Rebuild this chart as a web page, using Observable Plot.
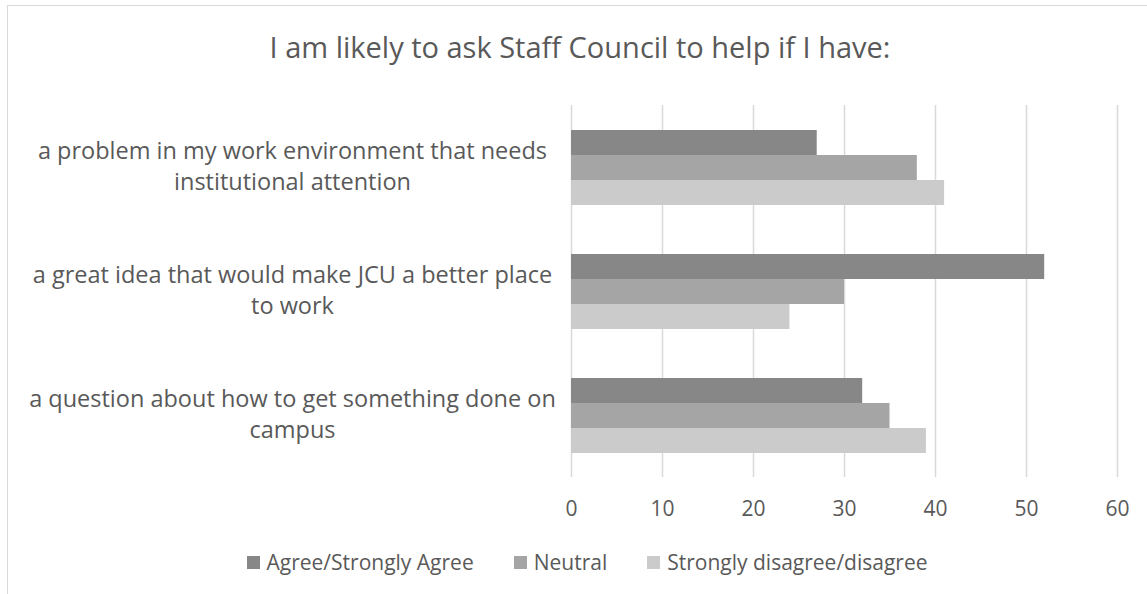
<!DOCTYPE html>
<html>
<head>
<meta charset="utf-8">
<script src="https://cdn.jsdelivr.net/npm/d3@7"></script>
<script src="https://cdn.jsdelivr.net/npm/@observablehq/plot@0.6"></script>
<style>
  html, body { margin: 0; padding: 0; background: #fff; }
  body { width: 1147px; height: 594px; position: relative; overflow: hidden; font-family: "Open Sans", sans-serif; color: #595959; }
  #frame { position: absolute; left: 7px; top: 5px; width: 1170px; height: 620px; border: 1.5px solid #d9d9d9; box-sizing: border-box; }
  #title { position: absolute; left: 0; width: 1160px; top: 27px; text-align: center; font-size: 29px; line-height: 40px; color: #595959; white-space: nowrap; }
  #chart { position: absolute; left: 0; top: 70px; }
  #legend { position: absolute; left: 0; width: 1174px; top: 547px; display: flex; justify-content: center; font-size: 21px; line-height: 30px; color: #595959; }
  .item { display: flex; align-items: center; margin: 0 20px; }
  .sw { width: 13px; height: 13px; margin-right: 7px; }
</style>
</head>
<body>
<div id="frame"></div>
<div id="title">I am likely to ask Staff Council to help if I have:</div>
<div id="chart"></div>
<div id="legend"></div>
<script>
const categories = [
  "a problem in my work environment that needs institutional attention",
  "a great idea that would make JCU a better place to work",
  "a question about how to get something done on campus"
];
const categoryLabels = [
  "a problem in my work environment that needs\ninstitutional attention",
  "a great idea that would make JCU a better place\nto work",
  "a question about how to get something done on\ncampus"
];
const series = ["Agree/Strongly Agree", "Neutral", "Strongly disagree/disagree"];
const agree = [27, 52, 32];
const neutral = [38, 30, 35];
const disagree = [41, 24, 39];
const colors = ["#878787", "#a5a5a5", "#cbcbcb"];
const xTicks = [0, 10, 20, 30, 40, 50, 60];

const valuesBySeries = [agree, neutral, disagree];
const rows = [];
categories.forEach((c, i) => {
  series.forEach((s, j) => rows.push({category: c, series: s, value: valuesBySeries[j][i]}));
});
const labelRows = categories.map((c, i) => ({category: c, label: categoryLabels[i]}));

const chart = Plot.plot({
  width: 1147,
  height: 460,
  marginLeft: 571,
  marginRight: 30,
  marginTop: 34,
  marginBottom: 53,
  style: {fontFamily: "Open Sans", color: "#595959", background: "transparent"},
  x: {domain: [0, 60], axis: null, label: null},
  y: {domain: series, paddingInner: 0, paddingOuter: 0.92, axis: null, label: null},
  fy: {domain: categories, padding: 0, axis: null, label: null},
  color: {domain: series, range: colors},
  marks: [
    Plot.gridX(xTicks, {stroke: "#d9d9d9", strokeOpacity: 1, strokeWidth: 1.5}),
    Plot.barX(rows, {fy: "category", y: "series", x: "value", fill: "series"}),
    Plot.text(labelRows, {fy: "category", text: "label", frameAnchor: "left", dx: -279, dy: -3, textAnchor: "middle", lineAnchor: "middle", lineHeight: 1.3, fontSize: 23.5, fill: "#595959"}),
    Plot.axisX(xTicks, {tickSize: 0, tickPadding: 24, fontSize: 21, color: "#595959", label: null, tickFormat: d => String(d)})
  ]
});
document.getElementById("chart").appendChild(chart);

const legend = document.getElementById("legend");
series.forEach((s, j) => {
  const item = document.createElement("div");
  item.className = "item";
  const sw = document.createElement("span");
  sw.className = "sw";
  sw.style.background = colors[j];
  const t = document.createElement("span");
  t.textContent = s;
  item.appendChild(sw);
  item.appendChild(t);
  legend.appendChild(item);
});
</script>
</body>
</html>
